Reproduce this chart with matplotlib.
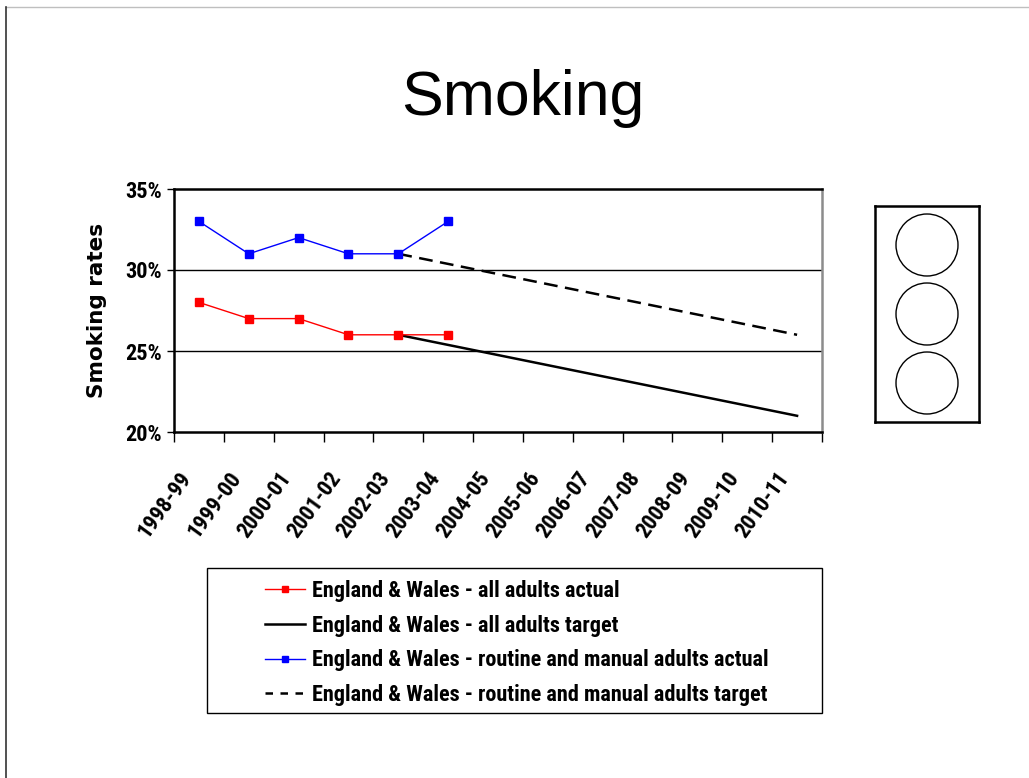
import matplotlib.pyplot as plt
import matplotlib.transforms as mtransforms
from matplotlib.lines import Line2D
from matplotlib.patches import Rectangle, Circle

years = ["1998-99", "1999-00", "2000-01", "2001-02", "2002-03", "2003-04", "2004-05",
         "2005-06", "2006-07", "2007-08", "2008-09", "2009-10", "2010-11"]
all_actual = [28, 27, 27, 26, 26, 26]
rm_actual = [33, 31, 32, 31, 31, 33]
target_years = ["2002-03", "2010-11"]
all_target = [26, 21]
rm_target = [31, 26]
y_ticks = [20, 25, 30, 35]

# condensed bold stands in for the vertically stretched Arial of the original chart
narrow = ["Roboto Condensed", "Barlow Condensed", "Liberation Sans", "DejaVu Sans"]
sans = ["Liberation Sans", "DejaVu Sans"]

fig = plt.figure(figsize=(10.29, 7.78), dpi=100)
W, H = 1029, 778

def fx(px):
    return px / W

def fy(py):
    return 1 - py / H

# slide border
fig.add_artist(Line2D([fx(6), 1], [fy(7), fy(7)], color="0.75", lw=1))
fig.add_artist(Line2D([fx(6), fx(6)], [fy(7), 0], color="0.2", lw=1.2))

fig.text(fx(523), fy(115), "Smoking", ha="center", va="baseline",
         fontsize=45, family=sans)

ax = fig.add_axes([fx(174), fy(432), fx(822) - fx(174), fy(189) - fy(432)])
idx = {y: i for i, y in enumerate(years)}
x_act = list(range(len(all_actual)))
x_tgt = [idx[y] for y in target_years]

ax.plot(x_act, all_actual, color="#ff0000", lw=1, marker="s", ms=6, zorder=4)
ax.plot(x_tgt, all_target, color="black", lw=1.8, zorder=3)
ax.plot(x_act, rm_actual, color="#0000ff", lw=1, marker="s", ms=6, zorder=4)
ax.plot(x_tgt, rm_target, color="black", lw=1.8, ls=(0, (5.5, 3)), zorder=3)

ax.set_xlim(-0.5, len(years) - 0.5)
ax.set_ylim(20, 35)
ax.set_xticks([i - 0.5 for i in range(len(years) + 1)])
ax.set_xticklabels([])
ax.tick_params(axis="x", direction="out", length=7, width=1, color="black")
ax.set_yticks(y_ticks)
ax.set_yticklabels([f"{v}%" for v in y_ticks], fontsize=16, fontweight="bold",
                   family=narrow)
ax.tick_params(axis="y", direction="out", length=5, width=1, pad=4)
for v in y_ticks[1:-1]:
    ax.axhline(v, color="black", lw=1, zorder=1)

for s in ["left", "top", "bottom"]:
    ax.spines[s].set_linewidth(1.8)
    ax.spines[s].set_color("black")
ax.spines["right"].set_linewidth(1.8)
ax.spines["right"].set_color("0.55")

ax.set_ylabel("Smoking rates", fontsize=15.5, fontweight="bold",
              family=["DejaVu Sans"], labelpad=13)

off = mtransforms.ScaledTranslation(-0.12, -0.42, fig.dpi_scale_trans)
trans = mtransforms.blended_transform_factory(ax.transData, ax.transAxes) + off
for i, y in enumerate(years):
    ax.text(i, 0, y, transform=trans, rotation=54, rotation_mode="anchor",
            ha="right", va="center", fontsize=16, fontweight="bold",
            family=narrow)

# legend box
fig.add_artist(Rectangle((fx(207), fy(713)), fx(822) - fx(207), fy(568) - fy(713),
                         transform=fig.transFigure, fill=False, lw=1, ec="black"))
handles = [
    Line2D([], [], color="#ff0000", lw=1, marker="s", ms=5),
    Line2D([], [], color="black", lw=1.8),
    Line2D([], [], color="#0000ff", lw=1, marker="s", ms=5),
    Line2D([], [], color="black", lw=1.8, ls=(0, (3, 3))),
]
labels = [
    "England & Wales - all adults actual",
    "England & Wales - all adults target",
    "England & Wales - routine and manual adults actual",
    "England & Wales - routine and manual adults target",
]
fig.legend(handles, labels, loc="upper left", bbox_to_anchor=(fx(265), fy(580)),
           frameon=False, prop={"family": narrow, "weight": "bold", "size": 16},
           handlelength=1.8, handletextpad=0.3, labelspacing=0.57,
           borderpad=0, borderaxespad=0)

# traffic light
tl = fig.add_axes([fx(875), fy(422), fx(979) - fx(875), fy(206) - fy(422)])
tl.set_xlim(0, 104)
tl.set_ylim(0, 216)
tl.set_xticks([])
tl.set_yticks([])
for s in tl.spines.values():
    s.set_linewidth(1.8)
for cy in [245, 314, 383]:
    tl.add_patch(Circle((52, 422 - cy), 31, fill=False, lw=1, ec="black"))

fig.savefig("out.png", dpi=100)
